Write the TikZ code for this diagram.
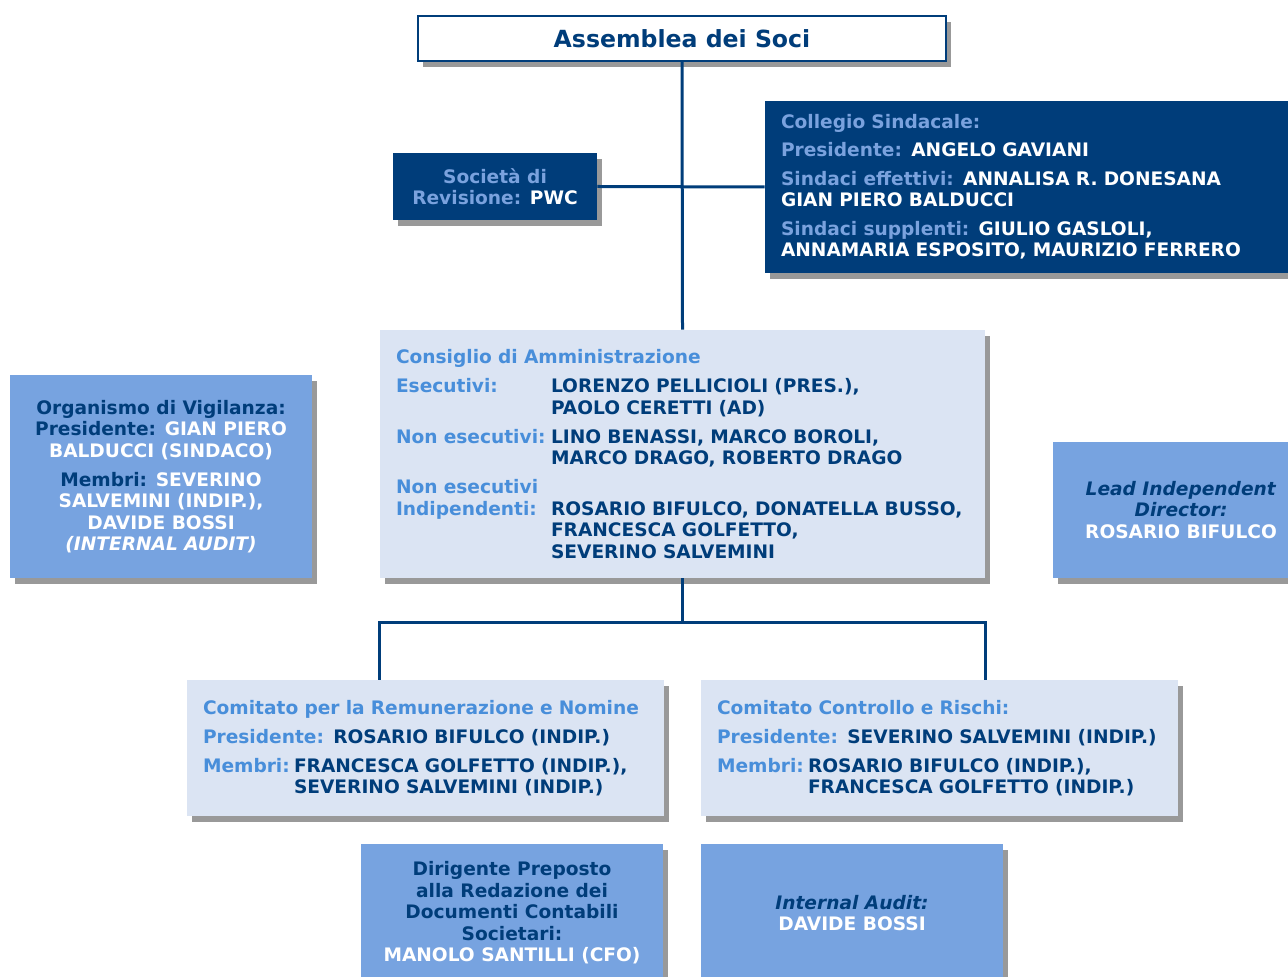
\documentclass[tikz,border=0pt]{standalone}
\usepackage{fontspec}
\setmainfont{DejaVu Sans}
\usetikzlibrary{positioning, shadows}
\definecolor{navy}{RGB}{0,61,122}
\definecolor{skyblue}{RGB}{122,162,222}
\definecolor{midfill}{RGB}{119,163,224}
\definecolor{palefill}{RGB}{219,228,243}
\definecolor{capblue}{RGB}{72,142,218}
\newcommand{\bodyfont}{\fontsize{9.3}{10.75}\selectfont\bfseries}
\newcommand{\sky}[1]{\textcolor{skyblue}{#1}}
\newcommand{\hdr}[1]{\textcolor{capblue}{#1}}
\newcommand{\nv}[1]{\textcolor{navy}{#1}}
\newcommand{\lblcol}[1]{\makebox[77.5pt][l]{\hdr{#1}}}
\newcommand{\memcol}[1]{\makebox[45.5pt][l]{\hdr{#1}}}
\tikzset{
	boxshadow/.style={drop shadow={shadow xshift=2.5pt, shadow yshift=-3pt,
		fill=black, opacity=0.4}},
	topbox/.style={rectangle, draw=navy, line width=1.2pt, fill=white,
		text=navy, font=\fontsize{11.8}{13}\selectfont\bfseries, boxshadow},
	darkbox/.style={rectangle, fill=navy, text=white, font=\bodyfont,
		boxshadow},
	palebox/.style={rectangle, fill=palefill, text=navy, font=\bodyfont,
		boxshadow, align=left, inner xsep=8pt},
	midbox/.style={rectangle, fill=midfill, text=white, font=\bodyfont,
		boxshadow, align=center},
	conn/.style={draw=navy, line width=1.5pt}
}

\begin{document}
\begin{tikzpicture}[x=0.5pt, y=-0.5pt]
	\useasboundingbox (0,0) rectangle (1288,977);
	\clip (0,0) rectangle (1288,977);

	% top
	\node[topbox, minimum width=264pt, minimum height=22.5pt] (assemblea)
	at (682,38.5) {Assemblea dei Soci};
	\node[darkbox, minimum width=102pt, minimum height=33.5pt, align=center]
	(revisione) at (495,186.5) {\sky{Società di}\\\sky{Revisione:} PWC};
	\node[darkbox, minimum width=272pt, minimum height=86pt, text width=256pt,
	align=left, inner xsep=8pt] (collegio) at (1037,187)
	{\sky{Collegio Sindacale:}\\[3.5pt]
		\sky{Presidente:} ANGELO GAVIANI\\[3.5pt]
		\sky{Sindaci effettivi:} ANNALISA R. DONESANA\\
		GIAN PIERO BALDUCCI\\[3.5pt]
		\sky{Sindaci supplenti:} GIULIO GASLOLI,\\
		ANNAMARIA ESPOSITO, MAURIZIO FERRERO};

	% board
	\node[palebox, minimum width=302.5pt, minimum height=124pt, text width=286.5pt]
	(consiglio) at (682.5,454)
	{\hdr{Consiglio di Amministrazione}\\[3.75pt]
		\lblcol{Esecutivi:}LORENZO PELLICIOLI (PRES.),\\
		\lblcol{}PAOLO CERETTI (AD)\\[3.75pt]
		\lblcol{Non esecutivi:}LINO BENASSI, MARCO BOROLI,\\
		\lblcol{}MARCO DRAGO, ROBERTO DRAGO\\[3.75pt]
		\lblcol{Non esecutivi}\\
		\lblcol{Indipendenti:}ROSARIO BIFULCO, DONATELLA BUSSO,\\
		\lblcol{}FRANCESCA GOLFETTO,\\
		\lblcol{}SEVERINO SALVEMINI};
	\node[midbox, minimum width=151pt, minimum height=101.5pt] (vigilanza)
	at (161,476.5)
	{\nv{Organismo di Vigilanza:}\\
		\nv{Presidente:} GIAN PIERO\\
		BALDUCCI (SINDACO)\\[3.75pt]
		\nv{Membri:} SEVERINO\\
		SALVEMINI (INDIP.),\\
		DAVIDE BOSSI\\
		\textit{(INTERNAL AUDIT)}};
	\node[midbox, minimum width=128pt, minimum height=68pt] (lead)
	at (1181,510)
	{\nv{\textit{Lead Independent}}\\
		\nv{\textit{Director:}}\\
		ROSARIO BIFULCO};

	% committees
	\node[palebox, minimum width=238.5pt, minimum height=68pt, text width=222.5pt]
	(remunerazione) at (425.5,748)
	{\hdr{Comitato per la Remunerazione e Nomine}\\[3.75pt]
		\hdr{Presidente:} ROSARIO BIFULCO (INDIP.)\\[3.75pt]
		\memcol{Membri:}FRANCESCA GOLFETTO (INDIP.),\\
		\memcol{}SEVERINO SALVEMINI (INDIP.)};
	\node[palebox, minimum width=238.5pt, minimum height=68pt, text width=222.5pt]
	(controllo) at (939.5,748)
	{\hdr{Comitato Controllo e Rischi:}\\[3.75pt]
		\hdr{Presidente:} SEVERINO SALVEMINI (INDIP.)\\[3.75pt]
		\memcol{Membri:}ROSARIO BIFULCO (INDIP.),\\
		\memcol{}FRANCESCA GOLFETTO (INDIP.)};

	% bottom
	\node[midbox, minimum width=151pt, minimum height=69pt] (dirigente)
	at (512,913)
	{\nv{Dirigente Preposto}\\
		\nv{alla Redazione dei}\\
		\nv{Documenti Contabili}\\
		\nv{Societari:}\\
		MANOLO SANTILLI (CFO)};
	\node[midbox, minimum width=151pt, minimum height=69pt] (audit)
	at (852,913)
	{\nv{\textit{Internal Audit:}}\\
		DAVIDE BOSSI};

	% connectors
	\draw[conn] (assemblea.south) -- (consiglio.north);
	\draw[conn] (revisione.east) -- (collegio.west);
	\draw[conn] (consiglio.south) -- ++(0,44) -| (remunerazione.north -| consiglio.west);
	\draw[conn] (consiglio.south) -- ++(0,44) -| (controllo.north -| consiglio.east);
\end{tikzpicture}
\end{document}
